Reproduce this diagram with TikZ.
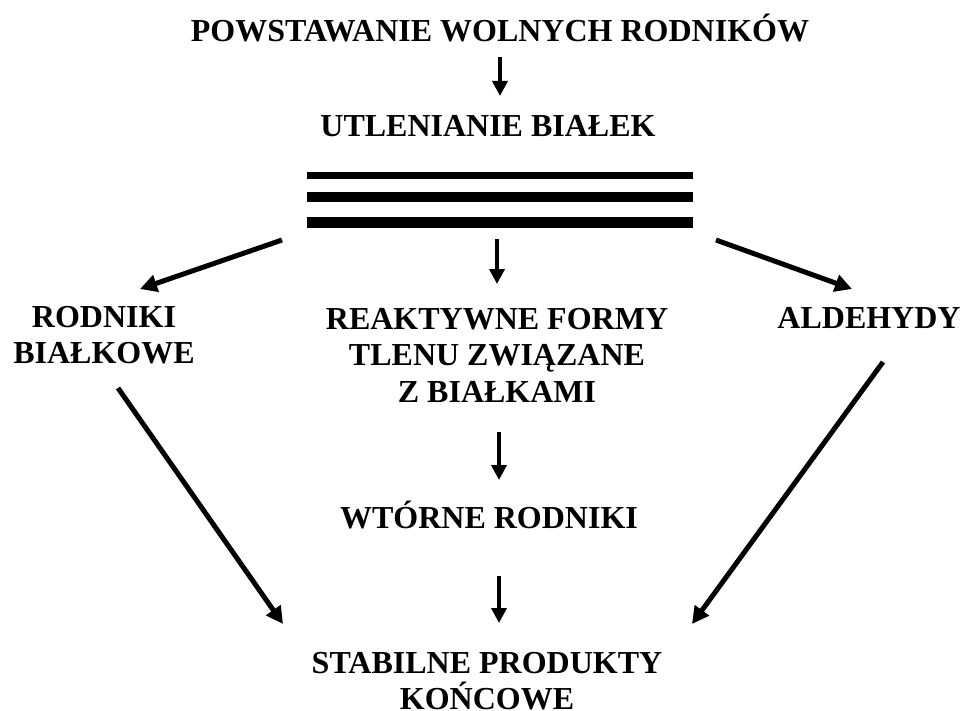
\documentclass[tikz,border=0pt]{standalone}
\usepackage{fontspec}
\setmainfont{Liberation Serif}
\usetikzlibrary{arrows.meta}
\tikzset{
  label text/.style={inner sep=0pt, align=center, font=\bfseries\fontsize{32}{36.5}\selectfont},
  flow/.style={line width=4.5pt, -{Triangle[width=15pt,length=15pt]}},
  slant/.style={line width=5pt, -{Triangle[width=17pt,length=17pt]}},
  bar/.style={line width=#1}
}
\begin{document}
\begin{tikzpicture}[x=1pt,y=-1pt]
  \useasboundingbox (0,0) rectangle (965,711);

  % text blocks
  \node[label text, anchor=base] (source) at (500,42) {POWSTAWANIE WOLNYCH RODNIKÓW};
  \node[label text, anchor=base] (oxid) at (488,137) {UTLENIANIE BIAŁEK};
  \node[label text, anchor=north] (protrad) at (104,306) {RODNIKI\\BIAŁKOWE};
  \node[label text, anchor=north] (ros) at (497,308) {REAKTYWNE FORMY\\TLENU ZWIĄZANE\\Z BIAŁKAMI};
  \node[label text, anchor=base] (ald) at (869,328) {ALDEHYDY};
  \node[label text, anchor=base] (second) at (489,528) {WTÓRNE RODNIKI};
  \node[label text, anchor=north] (stable) at (487,652) {STABILNE PRODUKTY\\KOŃCOWE};

  % triple bar under the oxidation step
  \coordinate (b1L) at (307,175.5);   \coordinate (b1R) at (693,175.5);
  \coordinate (b2L) at (307,197.5);   \coordinate (b2R) at (693,197.5);
  \coordinate (b3L) at (307,222.5);   \coordinate (b3R) at (693,222.5);
  \draw[bar=7pt]  (b1L) -- (b1R);
  \draw[bar=10pt] (b2L) -- (b2R);
  \draw[bar=10pt] (b3L) -- (b3R);

  % arrow end points
  \coordinate (a1s) at (500,57);   \coordinate (a1e) at (500,96);
  \coordinate (a2s) at (497,239);  \coordinate (a2e) at (497,284);
  \coordinate (a3s) at (499,432);  \coordinate (a3e) at (499,480);
  \coordinate (a4s) at (499,576);  \coordinate (a4e) at (499,623);
  \coordinate (l1s) at (282,240);  \coordinate (l1e) at (140,289);
  \coordinate (r1s) at (716,240);  \coordinate (r1e) at (852,289);
  \coordinate (l2s) at (118,388);  \coordinate (l2e) at (283,624);
  \coordinate (r2s) at (883,362);  \coordinate (r2e) at (692,624);

  \draw[flow] (a1s) -- (a1e);
  \draw[flow] (a2s) -- (a2e);
  \draw[flow] (a3s) -- (a3e);
  \draw[flow] (a4s) -- (a4e);
  \draw[slant] (l1s) -- (l1e);
  \draw[slant] (r1s) -- (r1e);
  \draw[slant] (l2s) -- (l2e);
  \draw[slant] (r2s) -- (r2e);
\end{tikzpicture}
\end{document}
